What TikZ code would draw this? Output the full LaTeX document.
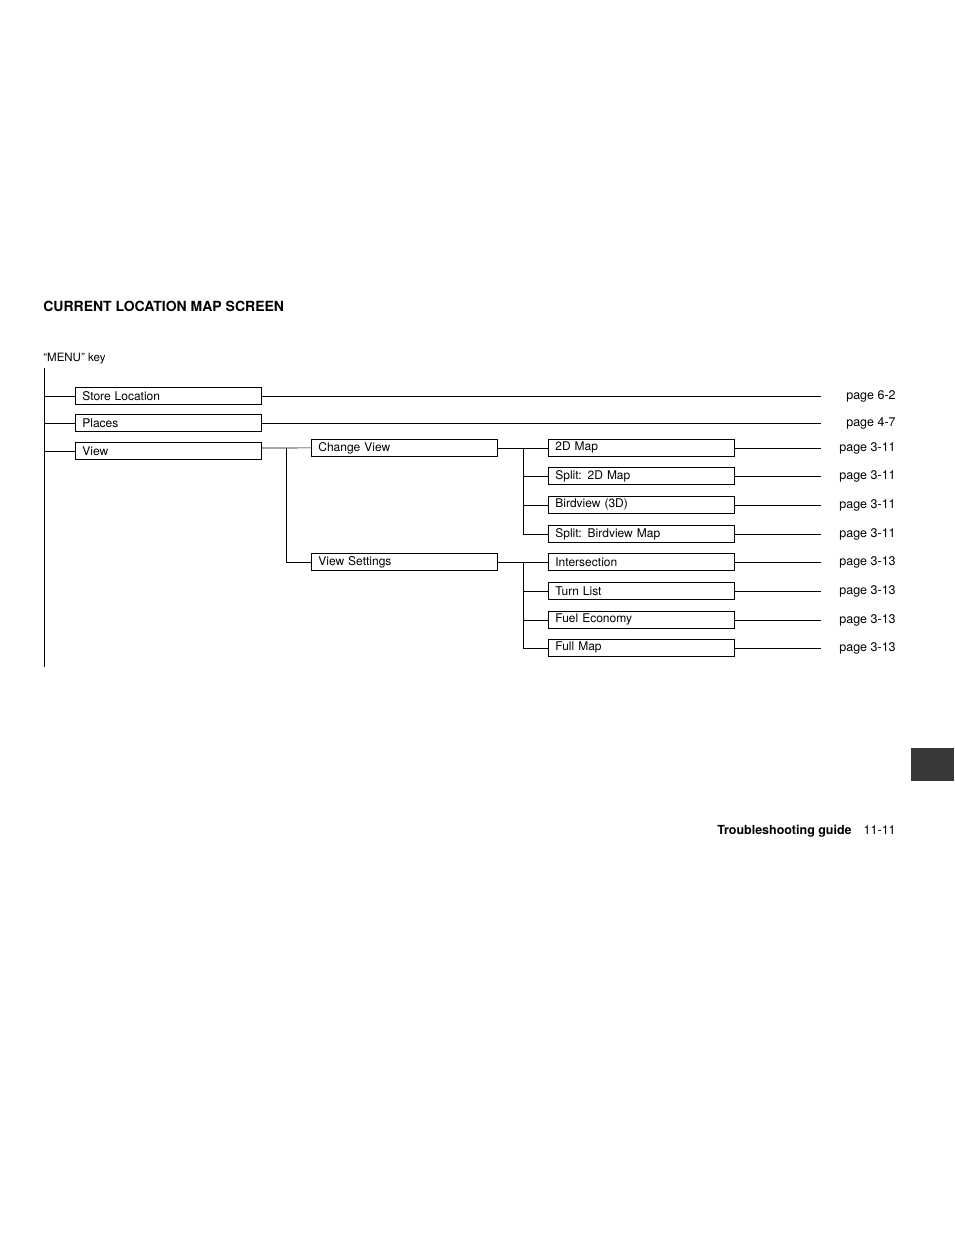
\documentclass[tikz,border=0pt]{standalone}
\usepackage{fontspec}
\setmainfont{TeX Gyre Heros}
\begin{document}
\begin{tikzpicture}[x=1pt,y=-1pt,line width=0.7pt,
  box/.style={draw,anchor=north west,inner xsep=7pt,inner ysep=0pt,text width=172pt,minimum height=17pt,align=left,font=\fontsize{12}{12}\selectfont},
  pg/.style={anchor=east,inner sep=0pt,font=\fontsize{12.5}{12}\selectfont},
  ln/.style={draw,line width=0.7pt}]
\useasboundingbox (0,0) rectangle (954,1235);
\node[anchor=base west,inner sep=0pt,font=\bfseries\fontsize{14}{14}\selectfont] (title) at (43,311) {CURRENT LOCATION MAP SCREEN};
\node[anchor=base west,inner sep=0pt,font=\fontsize{11.5}{12}\selectfont] (menu) at (43,361) {“MENU” key};
\coordinate (top) at (44,368);
\coordinate (bot) at (44,667);
\coordinate (xe) at (821,0);
\draw (top) -- (bot);
% level 1
\node[box] (sl) at (75,387) {Store Location};
\node[box] (pl) at (75,414) {Places};
\node[box] (vw) at (75,442) {View};
\foreach \n in {sl,pl,vw} \draw (\n.west -| top) -- (\n.west);
\node[pg] (p1) at (896,396) {page 6-2};
\node[pg] (p2) at (896,423) {page 4-7};
\draw (sl.east) -- (sl.east -| xe);
\draw (pl.east) -- (pl.east -| xe);
% level 2
\node[box] (cv) at (311,439) {Change View};
\node[box] (vs) at (311,553) {View Settings};
\coordinate (j1) at (286,448);
\draw (vw.east |- j1) -- (cv.west);
\draw (j1) -- (j1 |- vs.west) -- (vs.west);
% level 3
\coordinate (j2) at (523,448);
\coordinate (j3) at (523,563);
\draw (cv.east) -- (cv.east -| j2);
\draw (vs.east) -- (vs.east -| j3);
\foreach \n/\y/\t/\p/\j in {a/439/2D Map/3-11/j2, b/467/Split: 2D Map/3-11/j2, c/496/Birdview (3D)/3-11/j2, d/525/Split: Birdview Map/3-11/j2,
  e/553/Intersection/3-13/j3, f/582/Turn List/3-13/j3, g/611/Fuel Economy/3-13/j3, h/639/Full Map/3-13/j3}{
  \node[box] (\n) at (548,\y) {\t};
  \draw (\n.west -| \j) -- (\n.west);
  \draw (\n.east) -- (\n.east -| xe);
  \node[pg] (p\n) at (896,\y+9) {page \p};
}
\draw (j2) -- (j2 |- d.west);
\draw (j3) -- (j3 |- h.west);
% side tab
\fill[black!78] (911,748) rectangle (954,781);
\node[anchor=base east,inner sep=0pt,font=\fontsize{12.5}{12}\selectfont] (foot) at (896,834) {\textbf{Troubleshooting guide}\hspace{12pt}11-11};
\end{tikzpicture}
\end{document}
